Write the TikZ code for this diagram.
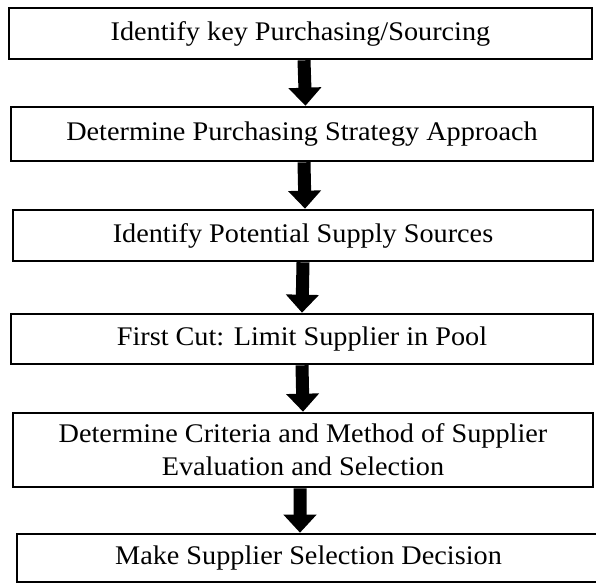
\documentclass[tikz,border=0pt]{standalone}
\usepackage{fontspec}
\setmainfont{Liberation Serif}[FakeStretch=1.05]
\usetikzlibrary{arrows.meta}
\begin{document}
\begin{tikzpicture}[x=1bp,y=-1bp,
  stepbox/.style={draw=black, line width=2.6bp, rectangle, inner sep=0pt, align=center,
    font=\fontsize{27}{33}\selectfont},
  bigarrow/.style={line width=13bp, -{Triangle[width=32bp,length=18bp]}}]
\useasboundingbox (0,0) rectangle (596,584);
\node[stepbox, minimum width=583bp, minimum height=51bp] (b1) at (300.5,33.5) {Identify key Purchasing/Sourcing};
\node[stepbox, minimum width=582bp, minimum height=54bp] (b2) at (302,134) {Determine Purchasing Strategy Approach};
\node[stepbox, minimum width=580bp, minimum height=51bp] (b3) at (303,235.5) {Identify Potential Supply Sources};
\node[stepbox, minimum width=582bp, minimum height=50bp] (b4) at (302,339) {First Cut: Limit Supplier in Pool};
\node[stepbox, minimum width=580bp, minimum height=74bp] (b5) at (303,450) {Determine Criteria and Method of Supplier\\Evaluation and Selection};
\node[stepbox, minimum width=583bp, minimum height=48bp] (b6) at (308.5,558) {Make Supplier Selection Decision};
\draw[bigarrow] ([xshift=3.5bp]b1.south) -- ([xshift=3.5bp]b2.north);
\draw[bigarrow] ([xshift=2bp]b2.south) -- ([xshift=2bp]b3.north);
\draw[bigarrow] ([xshift=0bp]b3.south) -- ([xshift=0bp]b4.north);
\draw[bigarrow] ([xshift=0bp]b4.south) -- ([xshift=0bp]b5.north);
\draw[bigarrow] ([xshift=-3bp]b5.south) -- ([xshift=-8.5bp]b6.north);
\end{tikzpicture}
\end{document}
